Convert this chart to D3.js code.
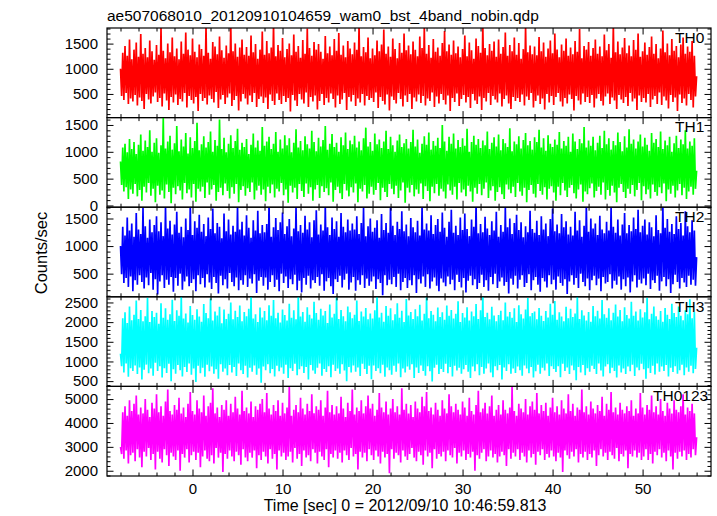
<!DOCTYPE html>
<html><head><meta charset="utf-8">
<script src="https://cdn.jsdelivr.net/npm/d3@7"></script>
<style>
body{margin:0;background:#fff;}
text{font-family:"Liberation Sans",Arial,Helvetica,sans-serif;fill:#000;}
</style>
</head><body>
<svg id="chart" width="717" height="516"></svg>
<script>
// ---------- text ----------
const titleText = "ae507068010_20120910104659_wam0_bst_4band_nobin.qdp";
const xLabelText = "Time [sec] 0 = 2012/09/10 10:46:59.813";
const yLabelText = "Counts/sec";
const bandNames = ["TH0","TH1","TH2","TH3","TH0123"];
const bandColors = ["#ff0000","#00ff00","#0000ff","#00ffff","#ff00ff"];

// ---------- time sampling of the arrays below ----------
const tStart = -8.0;     // first sample time [s]
const tStep = 0.125;     // seconds per sample

// ---------- axes ----------
const xDomain = [-9.5, 57.6];
const xTicks = [0,10,20,30,40,50];
const xMinorStep = 2;
const yDomainTH0 = [30,1810],   yTicksTH0 = [500,1000,1500],            yMinorTH0 = 100;
const yDomainTH1 = [-32,1637],  yTicksTH1 = [0,500,1000,1500],          yMinorTH1 = 100;
const yDomainTH2 = [80,1705],   yTicksTH2 = [500,1000,1500],            yMinorTH2 = 100;
const yDomainTH3 = [366,2644],  yTicksTH3 = [500,1000,1500,2000,2500],  yMinorTH3 = 100;
const yDomainTH0123 = [1780,5530], yTicksTH0123 = [2000,3000,4000,5000], yMinorTH0123 = 200;

// ---------- series (counts/sec), one row = 2 s ----------
const th0 = [
1000,460,1320,380,1450,520,1260,300,1580,410,1190,350,1380,480,1520,270,
1240,430,1690,360,1300,200,1410,500,1230,390,1560,310,1350,450,1180,530,
1470,340,1280,420,1820,250,1360,510,1210,370,1500,180,1330,440,1620,330,
1250,490,1400,280,1190,400,1540,350,1300,520,1720,230,1380,460,1270,380,
1600,310,1340,440,1230,160,1480,500,1390,360,1260,420,1850,290,1320,470,
1200,400,1530,330,1440,540,1290,220,1640,390,1370,480,1220,300,1460,430,
1310,510,1890,260,1350,380,1500,460,1240,170,1420,350,1580,500,1280,410,
1430,290,1260,470,1660,340,1330,520,1490,240,1200,400,1380,450,1740,320,
1280,430,1550,200,1310,490,1420,360,1900,280,1250,510,1470,380,1360,300,
1610,460,1230,340,1390,420,1500,150,1270,480,1680,370,1340,260,1450,500,
1220,390,1570,310,1300,530,1800,240,1410,440,1260,350,1530,470,1380,190,
1490,360,1340,500,1200,280,1650,420,1310,330,1440,510,1270,400,1590,230,
1360,470,1710,300,1280,390,1460,520,1230,180,1550,440,1400,350,1290,480,
1520,260,1380,410,1870,330,1250,500,1430,270,1330,460,1620,380,1210,420,
1400,340,1270,530,1560,220,1350,440,1480,360,1780,290,1300,490,1440,170,
1240,450,1600,380,1390,310,1210,520,1510,400,1320,250,1700,470,1370,340,
1460,500,1290,200,1540,430,1380,350,1250,490,1640,320,1410,460,1830,270,
1300,410,1470,360,1220,530,1590,240,1340,450,1420,310,1260,500,1510,380,
1750,290,1350,470,1480,160,1280,420,1560,340,1310,510,1440,260,1230,400,
1390,480,1660,330,1250,440,1520,220,1370,500,1200,370,1600,300,1450,450,
1320,180,1880,420,1410,350,1270,520,1490,280,1360,460,1540,390,1240,330,
1580,510,1300,250,1430,400,1720,470,1260,310,1470,200,1350,440,1620,360,
1280,420,1510,340,1200,490,1390,270,1850,450,1330,380,1460,520,1290,230,
1440,360,1270,470,1630,300,1350,410,1520,190,1240,500,1400,330,1560,460,
1310,280,1700,440,1380,520,1230,350,1480,250,1360,420,1600,310,1260,490,
1420,400,1290,170,1550,460,1340,370,1790,290,1210,510,1450,340,1380,440,
1530,320,1260,480,1410,230,1580,410,1300,500,1440,360,1250,270,1680,450,
1370,510,1490,300,1220,430,1860,370,1330,200,1540,480,1290,390,1420,320,
1610,440,1310,260,1460,520,1250,350,1570,410,1380,180,1700,470,1240,340,
1350,420,1520,330,1280,500,1430,240,1640,390,1300,460,1490,300,1210,530,
1400,280,1760,450,1330,370,1500,210,1270,480,1590,340,1360,430,1450,160,
1230,490,1480,320,1620,410,1300,270,1440,500,1340,380,1550,230,1260,450,
850];

const th1 = [
820,380,1080,260,1150,340,990,120,1240,300,1050,220,1180,400,960,170,
1130,290,1320,90,1020,350,1210,240,1090,420,1400,180,1000,310,1170,60,
1250,370,980,200,1120,280,1630,130,1060,390,1190,250,1300,40,1040,330,
1160,210,1480,360,1010,280,1230,110,1100,420,1350,230,970,300,1270,150,
1070,400,1200,70,1540,310,1030,260,1140,350,1290,140,1080,430,1180,200,
1380,300,1000,380,1220,90,1110,250,1600,330,1050,190,1260,410,990,270,
1150,130,1310,340,1070,220,1200,400,1430,60,1040,290,1170,360,1090,180,
1240,320,960,250,1130,430,1340,110,1080,280,1210,370,1020,200,1460,300,
1110,80,1190,350,1280,230,1050,390,1150,150,1370,310,1000,260,1230,420,
1060,190,1310,300,1120,50,1250,370,990,240,1170,330,1420,120,1080,400,
1200,270,1030,160,1290,410,1140,220,1060,340,1390,90,1180,300,1010,380,
1260,140,1100,360,1220,250,1480,320,1040,190,1150,430,1330,70,1090,290,
1170,350,1000,230,1270,120,1120,400,1360,280,1050,170,1210,340,1140,240,
1300,410,1080,60,1190,310,1030,260,1250,380,1450,130,1100,220,1180,350,
1020,200,1340,290,1140,420,1230,100,1070,330,1190,250,1390,160,1050,400,
1280,310,1120,210,1000,370,1210,140,1320,280,1090,430,1160,50,1240,330,
1060,240,1180,380,1410,170,1100,300,1230,220,980,410,1150,120,1290,360,
1130,270,1360,80,1040,350,1200,230,1110,400,1260,180,1070,310,1500,260,
1190,130,1020,390,1280,280,1150,200,1340,350,1060,110,1220,420,1090,240,
1250,300,1110,170,1430,370,1000,260,1180,70,1300,330,1130,220,1240,400,
1070,190,1210,310,1120,430,1380,140,1050,280,1170,360,1270,90,1100,250,
1320,340,1030,210,1240,120,1160,390,1090,300,1440,230,1010,350,1190,160,
1140,420,1290,260,1060,180,1220,330,1350,60,1120,290,1200,380,1040,220,
1270,150,1180,400,1410,270,1080,200,1250,340,1020,110,1310,310,1150,360,
1090,240,1230,90,1130,350,1370,190,1060,420,1200,280,1110,160,1280,330,
1000,380,1340,230,1190,130,1050,300,1240,390,1160,70,1460,260,1080,210,
1210,320,1110,410,1280,150,1030,270,1170,350,1300,200,1070,430,1390,110,
1140,290,1250,180,1040,370,1200,240,1120,60,1360,330,1180,400,1010,250,
1290,140,1080,310,1420,220,1150,380,1230,170,1060,290,1190,420,1320,100,
1100,360,1260,210,1130,300,1020,130,1350,390,1170,250,1240,180,1090,340,
1380,230,1050,410,1210,80,1120,300,1280,220,1000,370,1160,150,1300,280,
1070,400,1230,190,1140,330,1400,120,1060,260,1190,350,1110,200,1250,310,
650];

const th2 = [
1000,490,1350,330,1190,420,1520,260,1280,450,1410,180,1170,380,1600,300,
1300,470,1220,350,1690,230,1360,430,1150,290,1480,510,1250,210,1380,400,
1540,120,1270,360,1430,470,1180,240,1720,390,1320,300,1460,440,1210,170,
1390,420,1620,280,1240,500,1350,210,1160,360,1500,450,1290,270,1760,330,
1200,400,1450,180,1330,470,1570,310,1260,420,1400,250,1180,490,1520,340,
1310,220,1680,440,1230,330,1420,140,1350,460,1140,290,1590,400,1270,230,
1480,510,1210,350,1370,270,1260,430,1730,200,1300,380,1440,300,1190,470,
1560,260,1330,410,1150,320,1470,490,1280,150,1640,370,1230,440,1380,280,
1250,430,1400,210,1780,350,1170,470,1340,260,1510,390,1290,180,1430,500,
1610,330,1220,450,1360,240,1490,400,1180,310,1320,480,1700,200,1270,370,
1380,160,1240,420,1550,300,1300,460,1430,230,1160,380,1470,330,1650,440,
1210,280,1390,490,1280,190,1740,360,1340,420,1200,270,1520,130,1310,400,
1450,350,1170,460,1600,250,1350,390,1250,500,1480,210,1280,340,1410,440,
1300,190,1540,380,1220,300,1420,470,1690,240,1180,410,1360,280,1500,360,
1260,450,1330,220,1470,400,1150,330,1580,110,1290,470,1420,290,1240,390,
1750,310,1370,440,1200,260,1440,500,1310,200,1630,350,1270,420,1390,240,
1180,380,1510,290,1340,470,1250,150,1460,400,1190,320,1720,450,1300,260,
1410,490,1280,230,1560,360,1220,430,1380,280,1490,180,1260,410,1610,340,
1330,270,1170,450,1440,310,1660,390,1240,200,1370,480,1200,350,1520,250,
1290,420,1590,160,1310,370,1180,460,1480,290,1350,400,1770,220,1230,330,
1400,480,1250,260,1530,380,1320,190,1200,440,1450,310,1280,500,1620,240,
1170,360,1380,430,1260,280,1710,350,1340,140,1500,410,1220,300,1420,460,
1570,230,1290,390,1430,470,1160,260,1360,330,1250,490,1640,200,1310,380,
1240,440,1460,300,1200,170,1540,420,1300,360,1410,250,1180,470,1490,310,
1680,390,1270,210,1390,450,1230,330,1580,280,1340,400,1450,130,1210,360,
1350,470,1190,300,1620,420,1280,240,1470,500,1170,350,1370,270,1740,410,
1260,200,1500,380,1320,460,1410,290,1200,410,1550,180,1300,440,1230,320,
1440,350,1280,490,1700,230,1350,370,1240,300,1480,450,1190,210,1390,400,
1600,270,1230,430,1380,160,1270,360,1520,470,1310,250,1660,390,1250,320,
1370,410,1480,290,1210,500,1430,220,1340,380,1180,330,1560,460,1290,190,
1230,360,1750,440,1330,270,1490,400,1260,150,1400,310,1220,480,1540,350,
1310,230,1420,420,1190,340,1630,260,1360,460,1250,300,1470,390,1280,280,
800];

const th3 = [
1200,880,2100,720,2250,950,1980,610,2400,830,2050,760,2190,900,2550,680,
2080,850,2310,540,2020,790,2150,920,2620,700,2000,820,2280,640,2130,970,
2240,760,1960,880,2480,590,2110,830,2350,710,2060,940,2200,500,2570,800,
2030,690,2300,910,2160,780,2680,620,2090,860,2220,730,1990,950,2410,660,
2180,820,2060,480,2330,890,2140,700,2010,840,2460,610,2230,920,2100,750,
2600,870,2040,690,2270,800,2170,560,2390,930,1970,740,2320,820,2080,650,
2210,910,2500,720,2070,860,2290,630,2130,950,2420,780,2020,680,2260,890,
2150,590,2340,840,2650,740,2090,900,2200,660,2000,820,2370,460,2120,870,
2280,780,2050,930,2430,700,2160,810,2560,620,2100,890,2240,750,1990,850,
2320,690,2180,920,2040,580,2470,830,2110,760,2300,940,2070,650,2700,800,
2140,880,2260,710,2010,860,2380,540,2190,910,2090,770,2520,690,2230,840,
2060,950,2340,640,2170,810,2280,730,1980,880,2450,600,2120,920,2210,760,
2630,820,2080,690,2310,930,2150,770,2020,500,2400,860,2250,720,2100,900,
2190,740,2550,850,2030,630,2270,940,2140,810,2360,680,2070,890,2220,550,
2090,900,2300,760,2680,830,2120,700,2240,920,2010,610,2410,850,2160,780,
2350,660,2050,890,2200,740,2480,950,2110,600,2290,820,2000,720,2590,870,
2170,790,2260,930,2080,580,2330,850,2150,710,2440,900,2040,760,2210,640,
2640,880,2100,750,2280,490,2190,840,2020,920,2370,680,2130,810,2250,730,
2060,940,2420,700,2160,860,2310,620,2090,890,2210,770,2530,840,2000,690,
2230,800,2120,910,2380,740,2040,580,2270,870,2150,750,2460,930,2080,650,
2300,860,2710,690,2130,820,2240,950,2070,720,2390,600,2170,880,2020,780,
2180,910,2290,540,2050,850,2500,760,2140,930,2260,690,2110,820,2350,710,
2000,870,2430,780,2200,640,2090,900,2320,820,2610,700,2150,860,2230,590,
2270,750,2070,920,2360,690,2160,840,2030,770,2280,950,2120,630,2470,880,
2190,810,2540,730,2060,880,2250,600,2140,940,2020,760,2390,850,2100,680,
2340,900,2130,780,2220,520,2660,860,2080,720,2300,910,2170,650,2040,830,
2260,740,2010,890,2410,810,2150,680,2290,950,2090,770,2560,620,2200,870,
2110,930,2350,700,2050,840,2240,760,2450,590,2140,900,2310,720,2020,820,
2380,680,2180,870,2090,750,2520,920,2160,630,2270,850,2040,780,2330,940,
2120,800,2250,560,2620,830,2070,710,2210,890,2400,670,2150,950,2060,740,
2280,870,2010,760,2360,910,2190,620,2080,840,2470,730,2230,880,2130,690,
2400,780,2160,920,2050,650,2300,850,2200,740,2580,890,2100,700,2260,810,
1350];

const th0123 = [
3000,2700,4450,2500,4700,2850,4300,2300,4950,2650,4500,2750,4800,2400,5150,2900,
4350,2550,4650,2150,4400,2800,5000,2600,4550,2950,4250,2450,4850,2700,4600,2050,
5200,2800,4450,2500,4700,2350,4300,2900,4900,2650,5400,2200,4500,2750,4350,2600,
4750,2450,4550,2850,5050,2000,4400,2700,4650,2550,4250,2900,4800,2350,5300,2650,
4500,2800,4350,2450,4950,2750,4600,2150,4450,2600,5150,2850,4300,2500,4700,2400,
4850,2650,5450,2300,4400,2950,4650,2550,4250,2750,4750,1950,4550,2700,4950,2500,
4300,2850,4800,2600,4450,2400,5100,2800,4600,2650,4350,2250,5350,2900,4500,2550,
4650,2400,4400,2750,4900,2550,4250,2850,4700,2100,4550,2650,4800,2450,5000,2800,
4450,2600,5250,2300,4600,2900,4350,2500,4750,2700,4500,2050,4950,2850,4300,2600,
4850,2750,4400,2450,4650,2600,5500,2800,4300,2350,4550,2950,4750,2500,4450,2700,
5050,2200,4600,2850,4350,2550,4800,2650,4500,2400,5200,2900,4400,2750,4700,2300,
4550,2800,4950,2600,4300,2450,4650,2900,5350,2150,4450,2700,4750,2550,4350,2850,
4700,2500,4400,2750,5100,2350,4600,2850,4250,2650,4850,2450,4500,2950,5400,2600,
4350,2700,4650,2050,4500,2800,4950,2550,4400,2750,4700,2400,5150,2900,4600,2650,
4800,2450,4300,2850,4550,2600,5250,2300,4650,2800,4450,2550,4900,2700,4350,1900,
4600,2900,5000,2500,4450,2750,4700,2650,4350,2350,5450,2850,4550,2600,4800,2450,
4400,2700,4750,2950,4250,2550,4900,2400,4600,2800,4450,2650,5100,2250,4700,2850,
5300,2600,4500,2750,4650,2100,4350,2900,4850,2500,4550,2700,4300,2600,4950,2800,
4600,2400,4400,2850,5200,2650,4700,2550,4450,2950,4800,2300,4550,2750,4350,2600,
4900,2850,4650,2450,4300,2700,5050,2550,4500,2800,4350,2000,4750,2650,5350,2500,
4450,2750,4600,2900,4850,2400,4400,2600,4700,2850,5150,2550,4300,2700,4550,2350,
4750,2600,4350,2800,4950,2650,4550,2200,4400,2900,4650,2500,5500,2750,4500,2600,
4300,2900,4800,2450,4600,2750,4450,2600,5000,2350,4350,2850,4700,2550,4900,2700,
4550,2250,5250,2800,4400,2650,4750,2900,4500,2450,4850,2700,4300,2550,4650,2850,
5050,2600,4450,2400,4700,2750,4350,2550,4950,1950,4600,2850,4400,2650,5200,2500,
4500,2800,4800,2600,4300,2900,4650,2350,4550,2700,5400,2550,4450,2800,4700,2450,
4350,2700,4900,2550,4600,2850,4400,2200,4750,2650,4500,2900,5100,2600,4300,2750,
4800,2450,4550,2800,5300,2650,4450,2500,4650,2950,4350,2400,4850,2700,4550,2600,
4400,2850,4700,2100,4500,2700,4950,2600,4300,2850,4600,2550,4400,2750,5250,2450,
4650,2600,4350,2900,4750,2450,4550,2700,5150,2300,4450,2800,4700,2650,4350,2900,
5000,2550,4500,2750,4300,2400,4850,2850,4600,2600,4400,2050,4950,2750,4550,2500,
4450,2800,4700,2600,5200,2850,4350,2450,4650,2700,4500,2550,4800,2900,4400,2650,
3400];

// ---------- layout (not data) ----------
const W = 717, H = 516;
const frameL = 107, frameR = 711, frameT = 28, panelH = 89.6;
const labelX = [675, 675, 675, 675, 653];
const FS = 15.5, tickFS = 15;

const panels = [
  {name: bandNames[0], color: bandColors[0], v: th0, dom: yDomainTH0, ticks: yTicksTH0, minor: yMinorTH0},
  {name: bandNames[1], color: bandColors[1], v: th1, dom: yDomainTH1, ticks: yTicksTH1, minor: yMinorTH1},
  {name: bandNames[2], color: bandColors[2], v: th2, dom: yDomainTH2, ticks: yTicksTH2, minor: yMinorTH2},
  {name: bandNames[3], color: bandColors[3], v: th3, dom: yDomainTH3, ticks: yTicksTH3, minor: yMinorTH3},
  {name: bandNames[4], color: bandColors[4], v: th0123, dom: yDomainTH0123, ticks: yTicksTH0123, minor: yMinorTH0123}
];

const svg = d3.select("#chart");
svg.append("rect").attr("width", W).attr("height", H).attr("fill", "#fff");

const x = d3.scaleLinear().domain(xDomain).range([frameL, frameR]);
const xMinor = d3.range(Math.ceil(xDomain[0] / xMinorStep) * xMinorStep, xDomain[1], xMinorStep)
  .filter(d => !xTicks.includes(d));

function styleAxis(g) {
  g.select(".domain").remove();
  g.selectAll("line").attr("stroke", "#000").attr("stroke-width", 1);
  g.selectAll("text").attr("font-size", tickFS).attr("font-family", '"Liberation Sans",Arial,sans-serif').attr("fill", "#000");
  g.attr("font-family", null).attr("font-size", null);
}

panels.forEach((p, i) => {
  const y0 = frameT + i * panelH, y1 = y0 + panelH;
  const y = d3.scaleLinear().domain(p.dom).range([y1, y0]);
  const g = svg.append("g");

  const clipId = "clip" + i;
  svg.append("clipPath").attr("id", clipId).append("rect")
    .attr("x", frameL).attr("y", y0).attr("width", frameR - frameL).attr("height", panelH);

  const plot = g.append("g").attr("clip-path", `url(#${clipId})`);
  const pts = p.v.map((c, k) => ({t: tStart + k * tStep, c}));
  plot.append("path").datum(pts)
    .attr("fill", "none").attr("stroke", p.color).attr("stroke-width", 1.7)
    .attr("stroke-linejoin", "miter").attr("stroke-miterlimit", 2)
    .attr("d", d3.line().x(d => x(d.t)).y(d => y(d.c)));

  g.append("rect").attr("x", frameL).attr("y", y0).attr("width", frameR - frameL).attr("height", panelH)
    .attr("fill", "none").attr("stroke", "#000").attr("stroke-width", 1.2);

  const yMin = d3.range(Math.ceil(p.dom[0] / p.minor) * p.minor, p.dom[1], p.minor)
    .filter(d => !p.ticks.includes(d));

  g.append("g").attr("transform", `translate(${frameL},0)`)
    .call(d3.axisLeft(y).tickValues(p.ticks).tickSize(-6.5).tickPadding(9).tickFormat(d3.format("d"))).call(styleAxis);
  g.append("g").attr("transform", `translate(${frameL},0)`)
    .call(d3.axisLeft(y).tickValues(yMin).tickSize(-3.5).tickFormat("")).call(styleAxis);
  g.append("g").attr("transform", `translate(${frameR},0)`)
    .call(d3.axisRight(y).tickValues(p.ticks).tickSize(-6.5).tickFormat("")).call(styleAxis);
  g.append("g").attr("transform", `translate(${frameR},0)`)
    .call(d3.axisRight(y).tickValues(yMin).tickSize(-3.5).tickFormat("")).call(styleAxis);
  g.append("g").attr("transform", `translate(0,${y0})`)
    .call(d3.axisTop(x).tickValues(xTicks).tickSize(-6.5).tickFormat("")).call(styleAxis);
  g.append("g").attr("transform", `translate(0,${y0})`)
    .call(d3.axisTop(x).tickValues(xMinor).tickSize(-3.5).tickFormat("")).call(styleAxis);
  const last = i === panels.length - 1;
  g.append("g").attr("transform", `translate(0,${y1})`)
    .call(d3.axisBottom(x).tickValues(xTicks).tickSize(-6.5).tickPadding(7)
      .tickFormat(last ? d3.format("d") : "")).call(styleAxis);
  g.append("g").attr("transform", `translate(0,${y1})`)
    .call(d3.axisBottom(x).tickValues(xMinor).tickSize(-3.5).tickFormat("")).call(styleAxis);

  g.append("text").attr("x", labelX[i]).attr("y", y0 + 14.7)
    .attr("font-size", FS).text(p.name);
});

svg.append("text").attr("x", frameL).attr("y", 21).attr("font-size", FS).text(titleText);
svg.append("text").attr("x", 405).attr("y", 511).attr("text-anchor", "middle").attr("font-size", 16).text(xLabelText);
svg.append("text").attr("transform", "translate(47,253) rotate(-90)").attr("text-anchor", "middle")
  .attr("font-size", 16.5).text(yLabelText);
</script>
</body></html>
